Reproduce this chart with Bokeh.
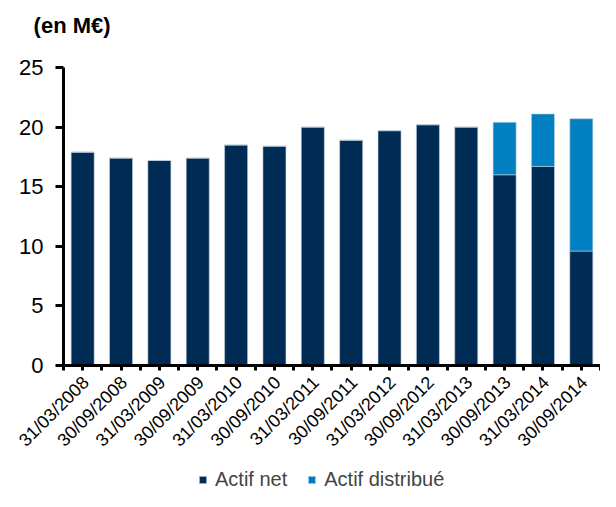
import math
from bokeh.plotting import figure
from bokeh.models import Range1d, FixedTicker, Legend, LegendItem, ColumnDataSource, Label
from bokeh.embed import file_html
from bokeh.resources import INLINE

dates = ["31/03/2008", "30/09/2008", "31/03/2009", "30/09/2009", "31/03/2010",
         "30/09/2010", "31/03/2011", "30/09/2011", "31/03/2012", "30/09/2012",
         "31/03/2013", "30/09/2013", "31/03/2014", "30/09/2014"]
actif_net = [17.9, 17.4, 17.2, 17.4, 18.5, 18.4, 20.0, 18.9, 19.7, 20.2, 20.0, 16.0, 16.7, 9.6]
actif_distribue = [0, 0, 0, 0, 0, 0, 0, 0, 0, 0, 0, 4.4, 4.4, 11.1]
y_ticks = [0, 5, 10, 15, 20, 25]

NAVY = "#002B54"
BLUE = "#0080C0"
FONT = "Liberation Sans"

n = len(dates)
centers = [i + 0.5 for i in range(n)]
label_pos = [c + 0.08 for c in centers]
source = ColumnDataSource(dict(x=centers, net=actif_net, dist=actif_distribue))

# the frame covers the whole figure; axes are pinned at zero
p = figure(width=600, height=491, output_backend="svg", toolbar_location=None,
           x_range=Range1d(-1.642, n), y_range=Range1d(-10.57, 30.62),
           min_border=0)
p.outline_line_color = None
p.xgrid.visible = False
p.ygrid.visible = False

rs = p.vbar_stack(["net", "dist"], x="x", width=0.6, source=source,
                  color=[NAVY, BLUE], line_color="#c0cedb", line_width=0.6)

# Title
p.add_layout(Label(x=-0.78, y=28.52, text="(en M€)", text_font=FONT,
                   text_font_size="22px", text_font_style="bold",
                   text_color="black", text_baseline="middle", text_align="left"))

# X axis
xa = p.xaxis[0]
xa.fixed_location = 0
xa.bounds = (0, n)
xa.ticker = FixedTicker(ticks=label_pos, minor_ticks=[i * 0.5 for i in range(2 * n + 1)])
xa.major_label_overrides = {c: d for c, d in zip(label_pos, dates)}
xa.major_label_orientation = math.pi / 4
xa.major_label_text_font = FONT
xa.major_label_text_font_size = "18px"
xa.major_label_text_color = "black"
xa.axis_line_width = 3
xa.axis_line_color = "black"
xa.major_tick_in = 0
xa.major_tick_out = 0
xa.minor_tick_in = 0
xa.minor_tick_out = 5
xa.minor_tick_line_width = 3
xa.major_label_standoff = 9

# Y axis
ya = p.yaxis[0]
ya.fixed_location = 0
ya.bounds = (0, 25)
ya.ticker = FixedTicker(ticks=y_ticks, minor_ticks=[])
ya.major_label_text_font = FONT
ya.major_label_text_font_size = "22px"
ya.major_label_text_color = "black"
ya.axis_line_width = 3
ya.axis_line_color = "black"
ya.major_tick_in = 0
ya.major_tick_out = 8
ya.major_tick_line_width = 3
ya.major_label_standoff = 12

legend = Legend(items=[LegendItem(label="Actif net", renderers=[rs[0]]),
                       LegendItem(label="Actif distribué", renderers=[rs[1]])],
                orientation="horizontal", location=(198, 0),
                border_line_color=None, background_fill_alpha=0,
                label_text_font=FONT, label_text_font_size="20px",
                glyph_width=9, glyph_height=9, label_standoff=8, spacing=20,
                padding=0, margin=0, label_height=16)
p.add_layout(legend)

open("out.html", "w").write(file_html(p, INLINE))
